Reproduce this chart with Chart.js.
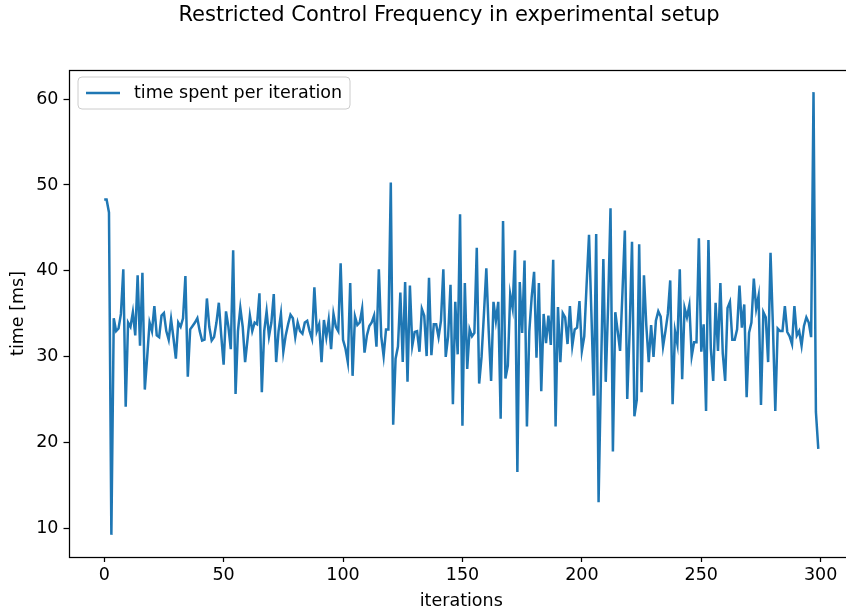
<!DOCTYPE html>
<html>
<head>
<meta charset="utf-8">
<script src="https://cdn.jsdelivr.net/npm/chart.js@4/dist/chart.umd.min.js"></script>
<style>
html,body{margin:0;padding:0;background:#fff;overflow:hidden;width:846px;height:612px;}
canvas{display:block;}
</style>
</head>
<body>
<canvas id="c" width="898" height="612"></canvas>
<script>
const titleText = "Restricted Control Frequency in experimental setup";
const seriesLabel = "time spent per iteration";
const xAxisLabel = "iterations";
const yAxisLabel = "time [ms]";
const xTicks = [0, 50, 100, 150, 200, 250, 300];
const yTicks = [10, 20, 30, 40, 50, 60];
const timeMs = [
  48.3, 48.3, 46.8, 9.3, 34.5, 33.0, 33.3, 35.0, 40.2, 24.2,
  34.0, 33.5, 35.2, 32.5, 39.5, 31.3, 39.8, 26.2, 30.0, 34.0,
  33.0, 35.9, 32.5, 32.3, 34.8, 35.1, 33.0, 32.0, 34.4, 32.2,
  29.8, 34.0, 33.5, 34.5, 39.4, 27.7, 33.2, 33.6, 34.0, 34.5,
  33.0, 31.9, 32.0, 36.8, 33.5, 31.9, 32.3, 34.0, 36.3, 32.5,
  29.1, 35.3, 33.5, 30.9, 42.4, 25.7, 33.0, 35.7, 33.5, 29.4,
  32.0, 34.8, 33.0, 34.0, 33.8, 37.4, 25.9, 33.0, 35.3, 32.4,
  34.0, 37.3, 29.4, 33.0, 35.0, 30.6, 32.5, 33.8, 34.9, 34.5,
  32.3, 34.0, 33.0, 32.7, 34.0, 34.2, 33.0, 32.1, 38.1, 33.0,
  33.8, 29.4, 34.3, 32.3, 34.3, 30.9, 35.0, 33.5, 33.0, 40.9,
  32.0, 31.0, 29.4, 38.6, 27.8, 34.7, 33.7, 34.0, 35.6, 30.5,
  32.5, 33.6, 34.0, 34.8, 31.2, 40.2, 32.4, 30.1, 33.2, 33.2,
  50.3, 22.1, 29.8, 31.2, 37.5, 29.4, 38.7, 27.1, 38.3, 31.3,
  32.9, 33.0, 30.6, 35.6, 34.8, 30.1, 39.2, 30.2, 33.8, 33.8,
  32.3, 34.2, 40.2, 30.0, 32.4, 38.4, 24.5, 36.4, 30.3, 46.6,
  22.0, 38.6, 28.6, 33.2, 32.4, 32.8, 42.7, 26.9, 30.0, 35.0,
  40.3, 33.0, 27.2, 36.4, 34.2, 36.4, 22.8, 45.8, 27.5, 29.0,
  37.3, 35.7, 42.4, 16.6, 38.7, 32.8, 41.2, 21.9, 33.0, 37.0,
  39.9, 29.9, 38.6, 26.0, 35.0, 31.6, 34.8, 31.4, 41.3, 21.9,
  35.8, 29.4, 35.1, 34.6, 31.5, 35.9, 31.3, 33.2, 33.4, 36.5,
  30.7, 32.4, 38.5, 44.2, 35.0, 25.5, 44.3, 13.1, 28.0, 41.4,
  27.1, 36.0, 47.3, 19.0, 35.2, 33.0, 30.7, 37.5, 44.7, 25.1,
  33.0, 43.4, 23.1, 25.0, 43.1, 25.9, 39.5, 33.6, 29.4, 33.7,
  30.0, 34.2, 35.3, 34.7, 31.2, 33.0, 35.0, 38.9, 24.5, 33.0,
  31.5, 40.2, 27.4, 35.7, 34.6, 36.0, 30.1, 31.7, 31.7, 43.8,
  30.6, 33.8, 23.7, 43.6, 31.0, 27.2, 36.3, 30.7, 38.6, 30.4,
  27.2, 35.7, 36.4, 32.0, 32.0, 33.2, 38.3, 33.4, 36.1, 25.3,
  32.8, 34.0, 39.1, 35.6, 37.1, 24.4, 35.2, 34.6, 29.4, 42.1,
  33.6, 23.7, 33.3, 33.0, 33.0, 35.9, 32.9, 32.4, 31.5, 35.9,
  32.5, 33.0, 31.3, 33.6, 34.6, 34.0, 32.3, 60.8, 23.6, 19.3
];
const iterations = timeMs.map((_, i) => i);

const FONT = "'DejaVu Sans', sans-serif";
const LINE_COLOR = '#1f77b4';
const TEXT_SIZE = 17.5;

const decor = {
  id: 'decor',
  afterDraw(chart) {
    const ctx = chart.ctx;
    const a = chart.chartArea;
    ctx.save();
    // frame
    ctx.strokeStyle = '#000';
    ctx.lineWidth = 1.25;
    ctx.strokeRect(Math.round(a.left) + 0.5, Math.round(a.top) + 0.5, Math.round(a.right - a.left), Math.round(a.bottom - a.top));
    // title
    ctx.fillStyle = '#000';
    ctx.textAlign = 'center';
    ctx.textBaseline = 'middle';
    ctx.font = '21px ' + FONT;
    ctx.fillText(titleText, 449, 16);
    // axis labels
    ctx.font = TEXT_SIZE + 'px ' + FONT;
    ctx.fillText(xAxisLabel, (a.left + a.right) / 2, 601);
    ctx.save();
    ctx.translate(18, (a.top + a.bottom) / 2);
    ctx.rotate(-Math.PI / 2);
    ctx.fillText(yAxisLabel, 0, 0);
    ctx.restore();
    // legend
    const lx = 78, ly = 77, lw = 272, lh = 32, r = 4;
    ctx.beginPath();
    ctx.moveTo(lx + r, ly);
    ctx.lineTo(lx + lw - r, ly);
    ctx.quadraticCurveTo(lx + lw, ly, lx + lw, ly + r);
    ctx.lineTo(lx + lw, ly + lh - r);
    ctx.quadraticCurveTo(lx + lw, ly + lh, lx + lw - r, ly + lh);
    ctx.lineTo(lx + r, ly + lh);
    ctx.quadraticCurveTo(lx, ly + lh, lx, ly + lh - r);
    ctx.lineTo(lx, ly + r);
    ctx.quadraticCurveTo(lx, ly, lx + r, ly);
    ctx.closePath();
    ctx.fillStyle = 'rgba(255,255,255,0.8)';
    ctx.fill();
    ctx.strokeStyle = '#cccccc';
    ctx.lineWidth = 1;
    ctx.stroke();
    ctx.beginPath();
    ctx.moveTo(86, 93);
    ctx.lineTo(120, 93);
    ctx.strokeStyle = LINE_COLOR;
    ctx.lineWidth = 2.5;
    ctx.stroke();
    ctx.fillStyle = '#000';
    ctx.textAlign = 'left';
    ctx.font = TEXT_SIZE + 'px ' + FONT;
    ctx.fillText(seriesLabel, 134, 93);
    ctx.restore();
  }
};

new Chart(document.getElementById('c'), {
  type: 'line',
  data: {
    labels: iterations,
    datasets: [{
      label: seriesLabel,
      data: iterations.map((x, i) => ({x: x, y: timeMs[i]})),
      borderColor: LINE_COLOR,
      borderWidth: 2.5,
      pointRadius: 0,
      tension: 0,
      fill: false
    }]
  },
  options: {
    responsive: false,
    animation: false,
    devicePixelRatio: 1,
    layout: {padding: {left: 0, right: 44, top: 70, bottom: 0}},
    plugins: {legend: {display: false}, title: {display: false}, tooltip: {enabled: false}},
    scales: {
      x: {
        type: 'linear',
        min: -14.95,
        max: 313.95,
        afterBuildTicks: s => { s.ticks = xTicks.map(v => ({value: v})); },
        afterFit: s => { s.height = 55; },
        grid: {display: true, drawOnChartArea: false, drawTicks: true, tickLength: 5, tickColor: '#000', tickWidth: 1.25},
        border: {display: false},
        ticks: {color: '#000', font: {family: FONT, size: TEXT_SIZE}, padding: 3, maxRotation: 0, autoSkip: false}
      },
      y: {
        type: 'linear',
        min: 6.725,
        max: 63.375,
        afterBuildTicks: s => { s.ticks = yTicks.map(v => ({value: v})); },
        afterFit: s => { s.width = 68.5; },
        grid: {display: true, drawOnChartArea: false, drawTicks: true, tickLength: 5, tickColor: '#000', tickWidth: 1.25},
        border: {display: false},
        ticks: {color: '#000', font: {family: FONT, size: TEXT_SIZE}, padding: 5, autoSkip: false}
      }
    }
  },
  plugins: [decor]
});
</script>
</body>
</html>
